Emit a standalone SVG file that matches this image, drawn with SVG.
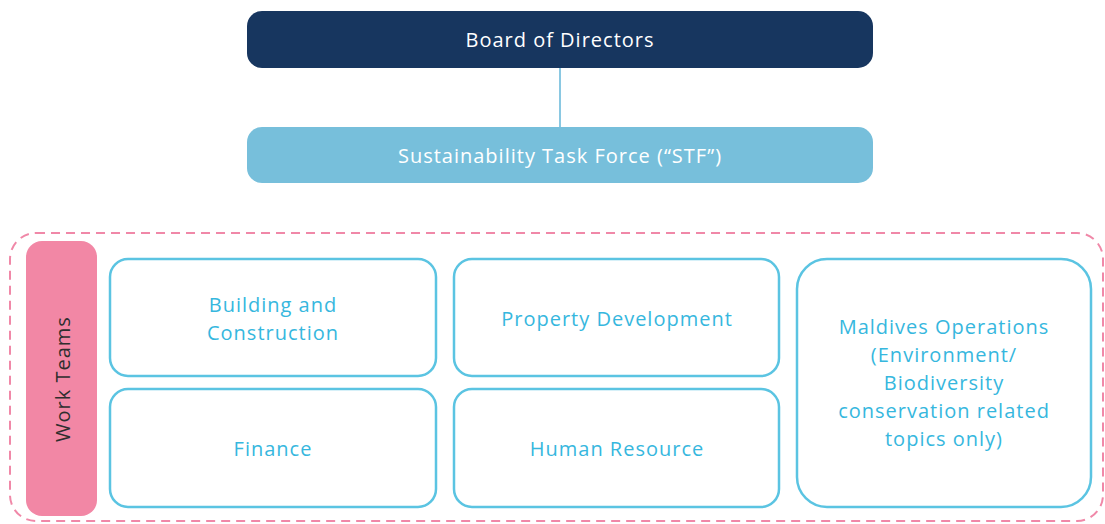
<svg xmlns="http://www.w3.org/2000/svg" width="1105" height="524" viewBox="0 0 1105 524">
  <style>
    text { font-family: "Open Sans", "Noto Sans", "Liberation Sans", sans-serif; text-anchor: middle; dominant-baseline: central; font-size: 20px; letter-spacing: 1px; }
    .head { fill: #ffffff; }
    .team { fill: #36b7de; }
    .box { fill: #ffffff; stroke: #5bc4e2; stroke-width: 2.5; }
    .link { stroke: #8ac8e2; stroke-width: 2; fill: none; }
  </style>
  <rect width="1105" height="524" fill="#ffffff"/>

  <g id="connectors">
    <line class="link" x1="560" y1="68" x2="560" y2="127"/>
  </g>

  <g id="board">
    <rect x="247" y="11" width="626" height="57" rx="15" fill="#17365f"/>
    <text class="head" x="560" y="39">Board of Directors</text>
  </g>

  <g id="stf">
    <rect x="247" y="127" width="626" height="56" rx="15" fill="#77bfdb"/>
    <text class="head" x="560" y="155">Sustainability Task Force (“STF”)</text>
  </g>

  <g id="work-teams-frame">
    <rect x="10" y="233" width="1093" height="288" rx="26" fill="none" stroke="#f088a8" stroke-width="2" stroke-dasharray="9 6"/>
  </g>

  <g id="work-teams">
    <rect x="26" y="241" width="71" height="275" rx="16" fill="#f287a5"/>
    <text x="62" y="379" transform="rotate(-90 62 379)" fill="#2e2e2e">Work Teams</text>
  </g>

  <g id="building">
    <rect class="box" x="110" y="259" width="326" height="117" rx="18"/>
    <text class="team" x="273" y="304">Building and</text>
    <text class="team" x="273" y="332">Construction</text>
  </g>

  <g id="property">
    <rect class="box" x="454" y="259" width="325" height="117" rx="18"/>
    <text class="team" x="617" y="318">Property Development</text>
  </g>

  <g id="finance">
    <rect class="box" x="110" y="389" width="326" height="118" rx="18"/>
    <text class="team" x="273" y="448">Finance</text>
  </g>

  <g id="human-resource">
    <rect class="box" x="454" y="389" width="325" height="118" rx="18"/>
    <text class="team" x="617" y="448">Human Resource</text>
  </g>

  <g id="maldives">
    <rect class="box" x="797" y="259" width="294" height="248" rx="30"/>
    <text class="team" x="944" y="326">Maldives Operations</text>
    <text class="team" x="944" y="354">(Environment/</text>
    <text class="team" x="944" y="382">Biodiversity</text>
    <text class="team" x="944" y="410">conservation related</text>
    <text class="team" x="944" y="438">topics only)</text>
  </g>
</svg>
